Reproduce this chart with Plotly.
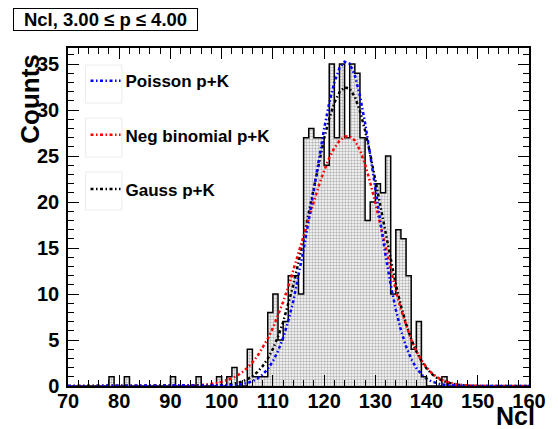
import plotly.graph_objects as go

# ---------------- data ----------------
BIN_LOW = list(range(70, 160))  # 1-unit bins from 70 to 160
COUNTS = [
    0, 0, 0, 0, 0, 0, 0, 0, 1, 0,      # 70-79
    0, 1, 0, 0, 0, 0, 0, 0, 0, 0,      # 80-89
    1, 0, 0, 0, 0, 1, 0, 0, 0, 1,      # 90-99
    0, 1, 2, 0, 0, 4, 1, 1, 1, 8,      # 100-109
    10, 5, 7, 12, 12, 10, 27, 28, 27, 27,   # 110-119
    24, 35, 27, 35, 27, 35, 34, 27, 18, 20,  # 120-129
    22, 21, 25, 10, 17, 16, 12, 4, 7, 1,     # 130-139
    0, 0, 0, 1, 0, 0, 0, 0, 0, 0,      # 140-149
    0, 0, 0, 0, 0, 0, 0, 0, 0, 0,      # 150-159
]

CURVE_X = [70, 80, 90, 96, 98, 100, 101, 102, 103, 104, 105, 106, 107, 108, 109,
           110, 111, 112, 113, 114, 115, 116, 117, 118, 119,
           120, 121, 122, 123, 124, 125, 126, 127, 128, 129,
           130, 131, 132, 133, 134, 135, 136, 137, 138, 139,
           140, 141, 142, 143, 144, 145, 146, 147, 148, 150, 155, 160]

POISSON = [0, 0, 0, 0, 0.01, 0.02, 0.04, 0.07, 0.12, 0.20, 0.32, 0.52, 0.81, 1.24, 1.85,
           2.69, 3.80, 5.25, 7.07, 9.27, 11.87, 14.82, 18.04, 21.41, 24.78,
           27.97, 30.77, 33.0, 34.56, 35.26, 35.04, 33.76, 31.56, 28.59, 25.13,
           21.41, 17.70, 14.17, 11.0, 8.29, 6.06, 4.29, 2.95, 1.96, 1.27,
           0.80, 0.48, 0.28, 0.16, 0.09, 0.05, 0.02, 0.01, 0, 0, 0, 0]

NEGBIN = [0, 0, 0, 0.10, 0.22, 0.44, 0.61, 0.83, 1.13, 1.50, 1.97, 2.56, 3.27, 4.13, 5.14,
          6.31, 7.65, 9.14, 10.78, 12.54, 14.40, 16.31, 18.22, 20.08, 21.84,
          23.42, 24.80, 25.89, 26.67, 27.11, 27.17, 26.69, 25.64, 24.09, 22.14,
          19.89, 17.48, 15.01, 12.63, 10.38, 8.33, 6.55, 5.04, 3.79, 2.80,
          2.00, 1.41, 0.97, 0.65, 0.43, 0.28, 0.17, 0.10, 0.06, 0.02, 0, 0]

GAUSS = [0, 0, 0, 0, 0.02, 0.08, 0.13, 0.20, 0.31, 0.48, 0.73, 1.07, 1.53, 2.16, 2.98,
         4.03, 5.35, 6.94, 8.83, 11.0, 13.44, 16.09, 18.86, 21.67, 24.40,
         26.91, 29.08, 30.79, 31.95, 32.47, 32.32, 31.44, 29.89, 27.77, 25.22,
         22.37, 19.40, 16.44, 13.64, 11.03, 8.72, 6.75, 5.10, 3.77, 2.72,
         1.92, 1.32, 0.89, 0.59, 0.38, 0.24, 0.14, 0.08, 0.05, 0.01, 0, 0]

SERIES_NAMES = ["Poisson p+K", "Neg binomial p+K", "Gauss p+K"]
TITLE_TEXT = "Ncl, 3.00 \u2264 p \u2264 4.00"
X_TITLE = "Ncl"
Y_TITLE = "Counts"
X_TICKS = list(range(70, 161, 10))
Y_TICKS = list(range(0, 36, 5))

# ---------------- figure ----------------
FONT = "Liberation Sans"
fig = go.Figure()

centers = [b + 0.5 for b in BIN_LOW]
fig.add_trace(go.Bar(
    x=centers, y=COUNTS, width=1.0, showlegend=False,
    marker=dict(color="white", line=dict(width=0),
                pattern=dict(shape=".", fgcolor="#6e6e6e", bgcolor="white",
                             size=3, solidity=0.5)),
    hoverinfo="skip",
))

edges = BIN_LOW + [BIN_LOW[-1] + 1]
fig.add_trace(go.Scatter(
    x=edges, y=COUNTS + [COUNTS[-1]], mode="lines", line_shape="hv",
    line=dict(color="black", width=1.5), showlegend=False, hoverinfo="skip",
))

DASH = "3px,2.5px,1.5px,2.5px"
fig.add_trace(go.Scatter(x=CURVE_X, y=GAUSS, mode="lines", name=SERIES_NAMES[2],
                         line=dict(color="black", width=2.5, dash=DASH),
                         legendgroup="g", legendrank=3))
fig.add_trace(go.Scatter(x=CURVE_X, y=NEGBIN, mode="lines", name=SERIES_NAMES[1],
                         line=dict(color="red", width=2.5, dash=DASH),
                         legendgroup="n", legendrank=2))
fig.add_trace(go.Scatter(x=CURVE_X, y=POISSON, mode="lines", name=SERIES_NAMES[0],
                         line=dict(color="blue", width=2.5, dash=DASH),
                         legendgroup="p", legendrank=1))

axis_common = dict(
    showgrid=False, zeroline=False, showline=True, linecolor="black", linewidth=1.5,
    mirror="allticks", ticks="inside", ticklen=11, tickwidth=1, tickcolor="black",
    tickfont=dict(family=FONT, size=20, color="black", weight=700),
    minor=dict(ticks="inside", ticklen=6, tickwidth=1, tickcolor="black", showgrid=False),
)

fig.update_layout(
    width=558, height=429,
    margin=dict(l=68, r=20, t=48, b=43),
    paper_bgcolor="white", plot_bgcolor="white",
    bargap=0,
    xaxis=dict(range=[70, 160], tickmode="array", tickvals=X_TICKS,
               ticklabelstandoff=-4, **axis_common),
    yaxis=dict(range=[0, 36.75], tickmode="array", tickvals=Y_TICKS,
               ticklabelstandoff=3, **axis_common),
    legend=dict(x=0.038, y=0.955, xanchor="left", yanchor="top",
                bgcolor="rgba(0,0,0,0)", borderwidth=0,
                font=dict(family=FONT, size=17, color="black", weight=700),
                tracegroupgap=29, traceorder="grouped"),
    showlegend=True,
)
fig.update_xaxes(minor_dtick=2)
fig.update_yaxes(minor_dtick=1)

# faint frames around the legend line samples
for (y0, y1) in [(65, 103), (118, 157), (172, 210)]:
    fig.add_shape(type="rect", xref="paper", yref="paper",
                  x0=(86 - 68) / 470, x1=(123 - 68) / 470,
                  y0=(386 - y1) / 338, y1=(386 - y0) / 338,
                  line=dict(color="#ececec", width=1), fillcolor="rgba(0,0,0,0)", layer="below")

# title box
fig.add_annotation(text=TITLE_TEXT, xref="paper", yref="paper",
                   x=(106 - 68) / 470, y=(386 - 19.5) / 338, xanchor="center", yanchor="middle",
                   showarrow=False, width=183, height=21, borderpad=0,
                   bordercolor="black", borderwidth=1, bgcolor="white",
                   font=dict(family=FONT, size=18.5, color="black", weight=700))
# axis titles
fig.add_annotation(text=Y_TITLE, xref="paper", yref="paper", textangle=-90,
                   x=(29 - 68) / 470, y=(386 - 99) / 338, xanchor="center", yanchor="middle",
                   showarrow=False, font=dict(family=FONT, size=26, color="black", weight=700))
fig.add_annotation(text=X_TITLE, xref="paper", yref="paper",
                   x=(524 - 68) / 470, y=(386 - 415.5) / 338, xanchor="center", yanchor="middle",
                   showarrow=False, font=dict(family=FONT, size=25, color="black", weight=700))

fig.write_html("out.html")
